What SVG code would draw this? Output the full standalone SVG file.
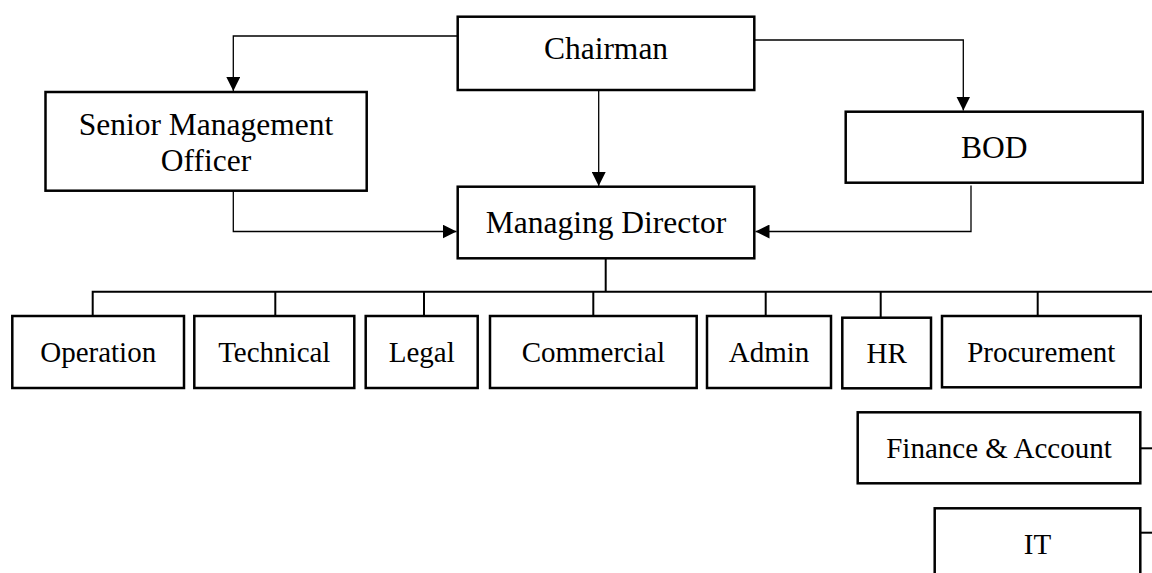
<svg xmlns="http://www.w3.org/2000/svg" width="1152" height="573" viewBox="0 0 1152 573">
<defs>
<marker id="arr" markerWidth="14" markerHeight="14" refX="14" refY="7" orient="auto" markerUnits="userSpaceOnUse">
<path d="M0,0 L14,7 L0,14 Z" fill="#000"/>
</marker>
<style>
.box{fill:#fff;stroke:#000;stroke-width:2.5}
.t{font-family:"Liberation Serif","Times New Roman",serif;fill:#000;text-anchor:middle}
.big{font-size:31.5px}
.small{font-size:29px}
.c{fill:none;stroke:#000;stroke-width:1.3}
.b{fill:none;stroke:#000;stroke-width:2}
</style>
</defs>
<rect width="1152" height="573" fill="#fff"/>
<g id="connectors">
<path class="c" d="M457.7,36 H233.3 V91" marker-end="url(#arr)"/>
<path class="c" d="M754.3,40 H963.3 V110.5" marker-end="url(#arr)"/>
<path class="c" d="M598.7,90 V186" marker-end="url(#arr)"/>
<path class="c" d="M233.3,190.7 V231.5 H456.5" marker-end="url(#arr)"/>
<path class="c" d="M971,185.5 V231.5 H755.5" marker-end="url(#arr)"/>
<path class="b" d="M605.7,258.3 V291.7"/>
<path class="b" d="M92.7,316 V291.7 H1152"/>
<path class="b" d="M275.3,291.7 V316"/>
<path class="b" d="M424,291.7 V316"/>
<path class="b" d="M593.3,291.7 V316"/>
<path class="b" d="M765.7,291.7 V316"/>
<path class="b" d="M880.7,291.7 V317.7"/>
<path class="b" d="M1037.7,291.7 V316"/>
<path class="b" d="M1140.3,448.3 H1152"/>
<path class="b" d="M1140.3,532.7 H1152"/>
</g>
<g id="chairman">
<rect class="box" x="457.7" y="16.7" width="296.6" height="73.3"/>
<text class="t big" x="606" y="59">Chairman</text>
</g>
<g id="senior">
<rect class="box" x="45.5" y="92" width="321.2" height="98.7"/>
<text class="t big" x="206" y="135">Senior Management</text>
<text class="t big" x="206" y="170.7">Officer</text>
</g>
<g id="bod">
<rect class="box" x="845.7" y="111.7" width="297" height="71"/>
<text class="t big" x="994.2" y="158.3">BOD</text>
</g>
<g id="md">
<rect class="box" x="457.7" y="186.7" width="296.6" height="71.6"/>
<text class="t big" x="606" y="233.3">Managing Director</text>
</g>
<g id="operation">
<rect class="box" x="12.3" y="316" width="171.7" height="72"/>
<text class="t small" x="98.2" y="362">Operation</text>
</g>
<g id="technical">
<rect class="box" x="194.3" y="316" width="160" height="72"/>
<text class="t small" x="274.3" y="362">Technical</text>
</g>
<g id="legal">
<rect class="box" x="365.7" y="316" width="112" height="72"/>
<text class="t small" x="421.7" y="362">Legal</text>
</g>
<g id="commercial">
<rect class="box" x="490" y="316" width="206.7" height="72"/>
<text class="t small" x="593.3" y="362">Commercial</text>
</g>
<g id="admin">
<rect class="box" x="707" y="316" width="124" height="72"/>
<text class="t small" x="769" y="362">Admin</text>
</g>
<g id="hr">
<rect class="box" x="842.3" y="317.7" width="88.7" height="70.6"/>
<text class="t small" x="886.7" y="362.5">HR</text>
</g>
<g id="procurement">
<rect class="box" x="942" y="316" width="198.7" height="71.3"/>
<text class="t small" x="1041.3" y="362">Procurement</text>
</g>
<g id="finance">
<rect class="box" x="857.7" y="412.3" width="282.6" height="71"/>
<text class="t small" x="999" y="458">Finance &amp; Account</text>
</g>
<g id="it">
<rect class="box" x="934.7" y="508.3" width="205.6" height="80"/>
<text class="t small" x="1037.5" y="554.3">IT</text>
</g>
</svg>
